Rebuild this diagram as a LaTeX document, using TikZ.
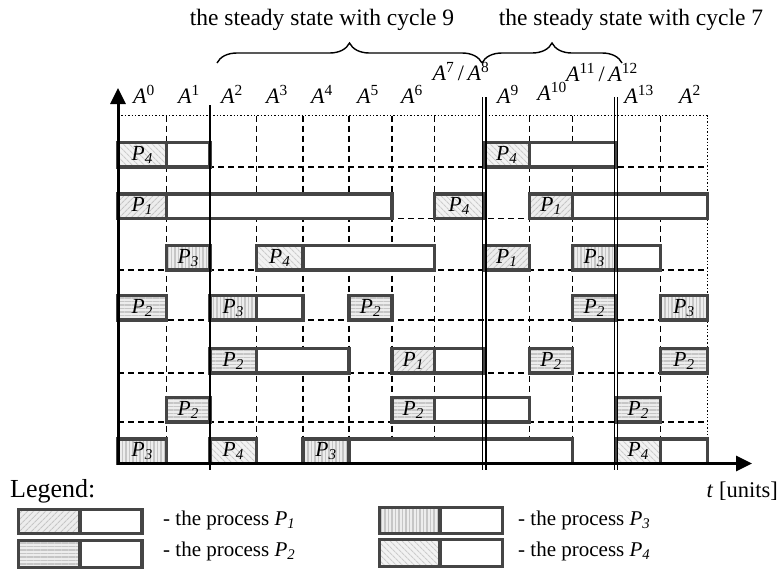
\documentclass[tikz,border=0pt]{standalone}
\usepackage{fontspec}
\setmainfont{Liberation Serif}
\usetikzlibrary{arrows.meta,patterns.meta,decorations.pathreplacing}
\definecolor{boxc}{gray}{0.27}
\newcommand\Ak[1]{\textit{A}\textsuperscript{#1}}
\newcommand\Pk[1]{\textit{P\textsubscript{#1}}}
\newcommand\procbox[5]{%
  \draw[proc#2] (#3,{#5-24.5}) rectangle (#4,#5);
  \node[plabel] (#1) at ({(#3+#4)/2},{#5-12.25}) {\Pk{#2}};}
\newcommand\restbox[3]{\draw[restb] (#1,{#3-24.5}) rectangle (#2,#3);}
\tikzset{
  boxbase/.style={draw=boxc, line width=3.4pt},
  proc1/.style={boxbase, preaction={fill=gray!14}, pattern={Lines[angle=45,distance=4pt,line width=1.1pt]}, pattern color=gray!45},
  proc2/.style={boxbase, preaction={fill=gray!14}, pattern={Lines[angle=0,distance=3.5pt,line width=1.1pt]}, pattern color=gray!45},
  proc3/.style={boxbase, preaction={fill=gray!14}, pattern={Lines[angle=90,distance=3.5pt,line width=1.1pt]}, pattern color=gray!45},
  proc4/.style={boxbase, preaction={fill=gray!10}, pattern={Lines[angle=-45,distance=4pt,line width=1.1pt]}, pattern color=gray!40},
  restb/.style={boxbase, fill=white},
  plabel/.style={font=\fontsize{21.5}{24}\selectfont, inner sep=0pt},
  alabel/.style={font=\fontsize{22}{26}\selectfont, anchor=base, inner sep=0pt},
  gridd/.style={line width=1.5pt, dash pattern=on 6pt off 4pt},
  gridt/.style={line width=1.4pt, dash pattern=on 1.4pt off 2pt},
  axis/.style={line width=3pt, -{Triangle[width=15pt,length=16pt]}},
  sep/.style={line width=1.3pt},
  legtext/.style={font=\fontsize{21}{24}\selectfont, anchor=base west, inner sep=0pt},
}
\begin{document}
\begin{tikzpicture}[x=1pt,y=-1pt]
\useasboundingbox (0,0) rectangle (779,571);
% grid positions
\def\Xa{118}\def\Xb{166.5}\def\Xc{210}\def\Xd{256.5}\def\Xe{303}\def\Xf{349}
\def\Xg{392}\def\Xh{434.5}\def\Xi{484}\def\Xj{529.5}\def\Xk{572.5}\def\Xl{616}
\def\Xm{660.5}\def\Xn{707.5}
\def\Ya{167}\def\Yb{218.5}\def\Yc{270}\def\Yd{320}\def\Ye{373}\def\Yf{422}\def\Yg{463.5}
\def\Ytop{115.7}
% dotted frame
\draw[gridt] (\Xa,\Ytop) -- (\Xn,\Ytop) -- (\Xn,\Yg);
% dashed grid
\foreach \y in {\Ya,\Yb,\Yc,\Yd,\Ye,\Yf} \draw[gridd] (\Xa,\y) -- (\Xn,\y);
\foreach \x in {\Xb,\Xd,\Xe,\Xf,\Xg,\Xh,\Xj,\Xk,\Xm} \draw[gridd] (\x,\Ytop) -- (\x,\Yg);
% row 1
\restbox{\Xb}{\Xc}{\Ya} \procbox{r1a}{4}{\Xa}{\Xb}{\Ya}
\restbox{\Xj}{\Xl}{\Ya} \procbox{r1b}{4}{\Xi}{\Xj}{\Ya}
% row 2
\restbox{\Xb}{\Xg}{\Yb} \procbox{r2a}{1}{\Xa}{\Xb}{\Yb}
\procbox{r2b}{4}{\Xh}{\Xi}{\Yb}
\restbox{\Xk}{\Xn}{\Yb} \procbox{r2c}{1}{\Xj}{\Xk}{\Yb}
% row 3
\procbox{r3a}{3}{\Xb}{\Xc}{\Yc}
\restbox{\Xe}{\Xh}{\Yc} \procbox{r3b}{4}{\Xd}{\Xe}{\Yc}
\procbox{r3c}{1}{\Xi}{\Xj}{\Yc}
\restbox{\Xl}{\Xm}{\Yc} \procbox{r3d}{3}{\Xk}{\Xl}{\Yc}
% row 4
\procbox{r4a}{2}{\Xa}{\Xb}{\Yd}
\restbox{\Xd}{\Xe}{\Yd} \procbox{r4b}{3}{\Xc}{\Xd}{\Yd}
\procbox{r4c}{2}{\Xf}{\Xg}{\Yd}
\procbox{r4d}{2}{\Xk}{\Xl}{\Yd}
\procbox{r4e}{3}{\Xm}{\Xn}{\Yd}
% row 5
\restbox{\Xd}{\Xf}{\Ye} \procbox{r5a}{2}{\Xc}{\Xd}{\Ye}
\restbox{\Xh}{\Xi}{\Ye} \procbox{r5b}{1}{\Xg}{\Xh}{\Ye}
\procbox{r5c}{2}{\Xj}{\Xk}{\Ye}
\procbox{r5d}{2}{\Xm}{\Xn}{\Ye}
% row 6
\procbox{r6a}{2}{\Xb}{\Xc}{\Yf}
\restbox{\Xh}{\Xj}{\Yf} \procbox{r6b}{2}{\Xg}{\Xh}{\Yf}
\procbox{r6c}{2}{\Xl}{\Xm}{\Yf}
% row 7
\procbox{r7a}{3}{\Xa}{\Xb}{\Yg}
\procbox{r7b}{4}{\Xc}{\Xd}{\Yg}
\restbox{\Xf}{\Xk}{\Yg} \procbox{r7c}{3}{\Xe}{\Xf}{\Yg}
\restbox{\Xm}{\Xn}{\Yg} \procbox{r7d}{4}{\Xl}{\Xm}{\Yg}
% separators
\draw[sep] (\Xc,105) -- (\Xc,470);
\draw[sep] (482.3,97) -- (482.3,470);
\draw[sep] (486,97) -- (486,470);
\draw[sep] (614.3,97) -- (614.3,470);
\draw[sep] (617.7,97) -- (617.7,470);
% axes
\coordinate (origin) at (\Xa,\Yg);
\coordinate (ytip) at (\Xa,88);
\coordinate (xtip) at (752,\Yg);
\draw[axis] ([yshift=-1.5pt]origin) -- (ytip);
\draw[axis] ([xshift=-1.5pt]origin) -- (xtip);
% A labels
\node[alabel] (a0) at (144,103) {\Ak{0}};
\node[alabel] (a1) at (189,103) {\Ak{1}};
\node[alabel] (a2) at (232,103) {\Ak{2}};
\node[alabel] (a3) at (277,103) {\Ak{3}};
\node[alabel] (a4) at (322,103) {\Ak{4}};
\node[alabel] (a5) at (368,103) {\Ak{5}};
\node[alabel] (a6) at (412,103) {\Ak{6}};
\node[alabel] (a78) at (461,80) {\Ak{7}\,/\,\Ak{8}};
\node[alabel] (a9) at (508,103) {\Ak{9}};
\node[alabel] (a10) at (552,100) {\Ak{10}};
\node[alabel] (a1112) at (602,81) {\Ak{11}\,/\,\Ak{12}};
\node[alabel] (a13) at (639,103) {\Ak{13}};
\node[alabel] (a2b) at (690,103) {\Ak{2}};
% braces
\coordinate (b1s) at (217,63);
\coordinate (b1e) at (482,63);
\coordinate (b2s) at (482,63);
\coordinate (b2e) at (622,63);
\draw[line width=1.4pt, decorate, decoration={brace, amplitude=20pt}] (b1s) -- (b1e);
\draw[line width=1.4pt, decorate, decoration={brace, amplitude=20pt}] (b2s) -- (b2e);
\node[font=\fontsize{23.5}{27}\selectfont, anchor=base, inner sep=0pt] (c9) at (322,25) {the steady state with cycle 9};
\node[font=\fontsize{23.5}{27}\selectfont, anchor=base, inner sep=0pt] (c7) at (631,25) {the steady state with cycle 7};
% t units
\node[font=\fontsize{22.5}{26}\selectfont, anchor=base east, inner sep=0pt] (tu) at (778,497) {\textit{t} [units]};
% legend
\node[font=\fontsize{26}{30}\selectfont, anchor=base west, inner sep=0pt] (leg) at (10,497) {Legend:};
\draw[proc1] (18.2,509.2) rectangle (80,533.5);
\draw[restb] (80,509.2) rectangle (141.8,533.5);
\draw[proc2] (18.2,540.5) rectangle (80,567.5);
\draw[restb] (80,540.5) rectangle (141.8,567.5);
\draw[proc3] (379.5,507.5) rectangle (440,533.5);
\draw[restb] (440,507.5) rectangle (502.5,533.5);
\draw[proc4] (379.5,539.2) rectangle (440,566.2);
\draw[restb] (440,539.2) rectangle (502.5,566.2);
\node[legtext] (l1) at (163,525) {- the process \Pk{1}};
\node[legtext] (l2) at (163,556.5) {- the process \Pk{2}};
\node[legtext] (l3) at (518,525) {- the process \Pk{3}};
\node[legtext] (l4) at (518,556.5) {- the process \Pk{4}};
\end{tikzpicture}
\end{document}
